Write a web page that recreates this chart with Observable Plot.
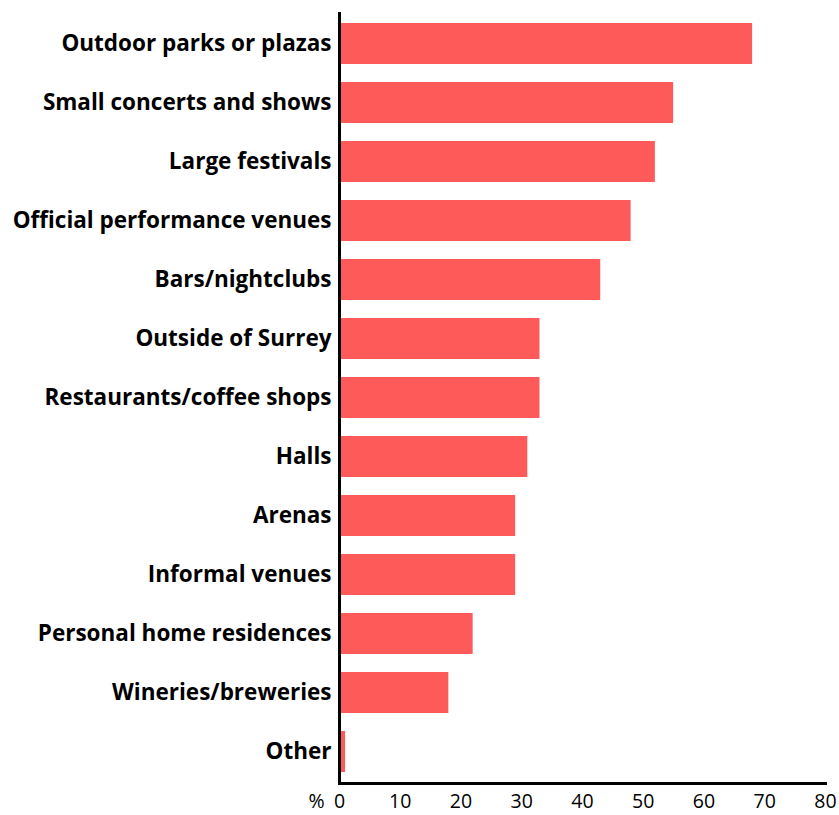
<!DOCTYPE html>
<html>
<head>
<meta charset="utf-8">
<script src="https://cdn.jsdelivr.net/npm/d3@7"></script>
<script src="https://cdn.jsdelivr.net/npm/@observablehq/plot@0.6"></script>
<style>
  html, body { margin: 0; padding: 0; background: #fff; }
  #chart svg { display: block; }
</style>
</head>
<body>
<div id="chart"></div>
<script>
const categories = [
  "Outdoor parks or plazas",
  "Small concerts and shows",
  "Large festivals",
  "Official performance venues",
  "Bars/nightclubs",
  "Outside of Surrey",
  "Restaurants/coffee shops",
  "Halls",
  "Arenas",
  "Informal venues",
  "Personal home residences",
  "Wineries/breweries",
  "Other"
];
const values = [68, 55, 52, 48, 43, 33, 33, 31, 29, 29, 22, 18, 1];
const xTicks = [0, 10, 20, 30, 40, 50, 60, 70, 80];
const unitLabel = "%";

const data = categories.map((c, i) => ({category: c, value: values[i]}));

const chart = Plot.plot({
  width: 839,
  height: 815,
  marginLeft: 339,
  marginRight: 14,
  marginTop: 13,
  marginBottom: 32,
  style: {fontFamily: "'Open Sans', sans-serif", background: "#fff", color: "#000"},
  x: {domain: [0, 80], ticks: xTicks},
  y: {domain: categories, paddingInner: 0.3, paddingOuter: 0.12},
  marks: [
    Plot.barX(data, {x: "value", y: "category", fill: "#ff5a5a"}),
    Plot.axisY({tickSize: 0, tickPadding: 8, label: null, fontSize: 22.5, fontWeight: "bold", fill: "#000"}),
    Plot.axisX({ticks: xTicks, tickSize: 0, tickPadding: 11, label: null, fontSize: 19.5, fill: "#000"}),
    Plot.text([unitLabel], {frameAnchor: "bottom-left", dx: -15, dy: 11, lineAnchor: "top", textAnchor: "end", fontSize: 19.5, fill: "#000", text: d => d}),
    Plot.frame({anchor: "left", stroke: "#000", strokeWidth: 3}),
    Plot.frame({anchor: "bottom", stroke: "#000", strokeWidth: 3})
  ]
});
document.getElementById("chart").appendChild(chart);
</script>
</body>
</html>
